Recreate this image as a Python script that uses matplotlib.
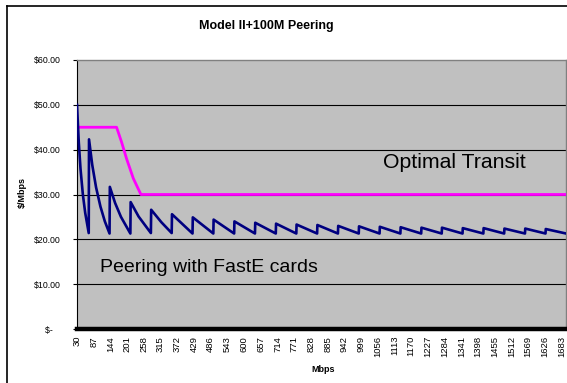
import matplotlib.pyplot as plt
from matplotlib.lines import Line2D

plt.rcParams['font.family'] = ['Liberation Sans', 'DejaVu Sans']

# Peering with FastE cards ($/Mbps vs Mbps)
peer_mbps = [30, 36, 42, 50, 58, 70,
             71, 82, 95, 110, 125, 141,
             142, 160, 180, 212,
             213, 240, 282,
             283, 318, 353,
             354, 424, 425, 495, 496, 566, 567, 637, 638, 708,
             709, 778, 779, 849, 850, 920, 921, 991, 992, 1062,
             1063, 1133, 1134, 1204, 1205, 1274, 1275, 1345, 1346, 1416,
             1417, 1487, 1488, 1558, 1559, 1628, 1629, 1698]
peer_cost = [50.0, 41.7, 35.7, 30.0, 25.9, 21.4,
             42.3, 36.6, 31.6, 27.3, 24.0, 21.3,
             31.7, 28.1, 25.0, 21.3,
             28.3, 25.1, 21.4,
             26.6, 23.8, 21.4,
             25.6, 21.3, 24.9, 21.3, 24.4, 21.3, 24.0, 21.3, 23.7, 21.3,
             23.5, 21.3, 23.3, 21.3, 23.2, 21.3, 23.0, 21.3, 22.9, 21.3,
             22.8, 21.3, 22.7, 21.3, 22.6, 21.3, 22.6, 21.3, 22.5, 21.3,
             22.5, 21.3, 22.4, 21.3, 22.4, 21.3, 22.3, 21.3]

# Optimal transit
transit_mbps = [30, 165, 182, 199, 222, 248, 1698]
transit_cost = [45.0, 45.0, 41.7, 38.0, 33.6, 30.0, 30.0]

xtick_vals = list(range(30, 1684, 57))
ytick_vals = [0, 10, 20, 30, 40, 50, 60]
ytick_labels = ['$-   ', '$10.00', '$20.00', '$30.00', '$40.00', '$50.00', '$60.00']

W, H = 567, 383
fig = plt.figure(figsize=(W / 100, H / 100), dpi=100)
ax = fig.add_axes([77 / W, 1 - 329 / H, (566 - 77) / W, (329 - 60) / H])
ax.set_facecolor('#c0c0c0')

for v in ytick_vals[1:-1]:
    ax.axhline(v, color='black', lw=0.8, zorder=1)

ax.plot(transit_mbps, transit_cost, color='#ff00ff', lw=2.0, zorder=3)
ax.plot(peer_mbps, peer_cost, color='#000080', lw=1.9, zorder=4)
ax.axhline(0, color='black', lw=3.2, zorder=5, clip_on=False)

ax.set_xlim(30, 1698)
ax.set_ylim(0, 60)
ax.set_xticks(xtick_vals)
ax.set_xticklabels([str(v) for v in xtick_vals], rotation=90, fontsize=6.8)
ax.set_yticks(ytick_vals)
ax.set_yticklabels(ytick_labels, fontsize=6.3)
ax.tick_params(axis='x', length=0, pad=5)
ax.tick_params(axis='y', length=3, width=0.8, pad=9, direction='out')

for s in ['top', 'right']:
    ax.spines[s].set_color('#808080')
    ax.spines[s].set_linewidth(1.0)
ax.spines['left'].set_color('black')
ax.spines['left'].set_linewidth(0.8)
ax.spines['bottom'].set_visible(False)

ax.text(1074, 36.0, 'Optimal Transit', fontsize=15.3, va='baseline', ha='left')
ax.text(108, 12.7, 'Peering with FastE cards', fontsize=14, va='baseline', ha='left')

fig.text(266.8 / W, 1 - 26 / H, 'Model II+100M Peering', fontsize=9,
         fontweight='bold', ha='center', va='center')
fig.text(22 / W, 1 - 193 / H, '$/Mbps', fontsize=6.5, fontweight='bold',
         rotation=90, ha='center', va='center')
fig.text(323 / W, 1 - 369 / H, 'Mbps', fontsize=6.5, fontweight='bold',
         ha='center', va='center')

# chart-area border (left and top visible)
fig.add_artist(Line2D([6.5 / W, 6.5 / W], [0, 1 - 6 / H], color='black', lw=1.2))
fig.add_artist(Line2D([6.5 / W, 1], [1 - 6 / H, 1 - 6 / H], color='black', lw=1.2))

fig.savefig('out.png', dpi=100)
